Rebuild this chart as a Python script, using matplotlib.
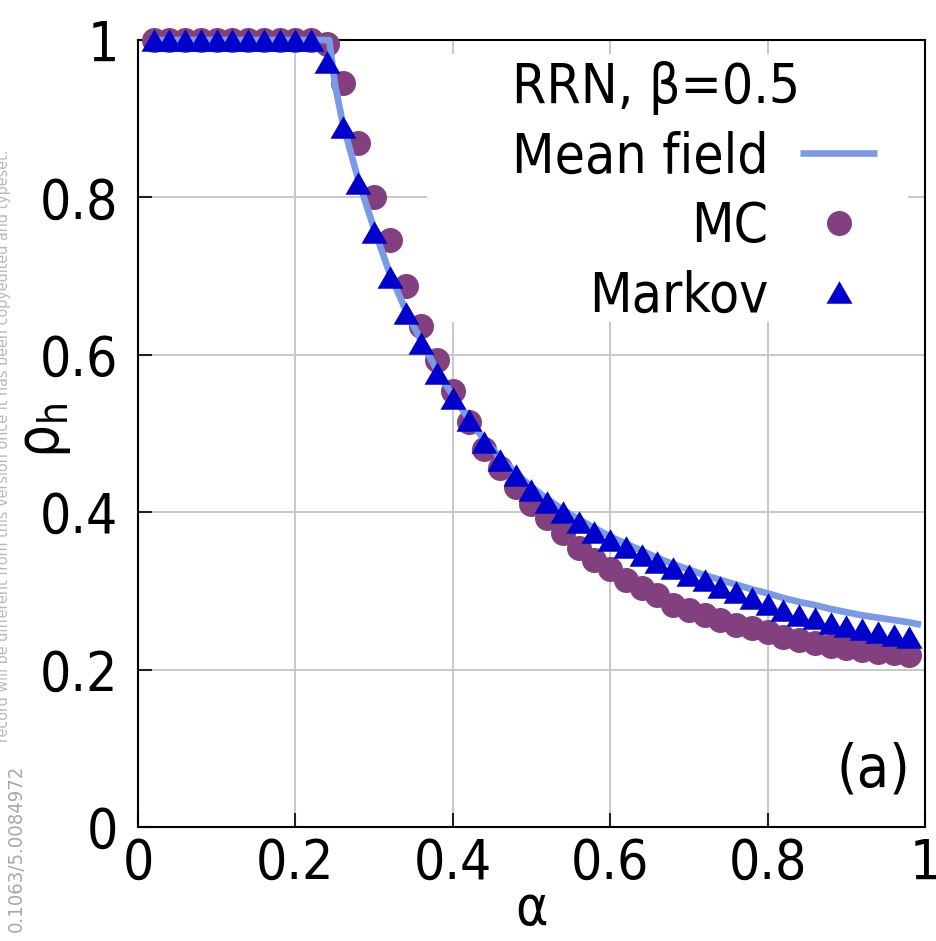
import glob
import os
import matplotlib
matplotlib.use("Agg")
import matplotlib.pyplot as plt
from matplotlib import font_manager as fm
from matplotlib.patches import Rectangle

# ---------------------------------------------------------------- data
alpha = [0.02, 0.04, 0.06, 0.08, 0.10, 0.12, 0.14, 0.16, 0.18, 0.20,
         0.22, 0.24, 0.26, 0.28, 0.30, 0.32, 0.34, 0.36, 0.38, 0.40,
         0.42, 0.44, 0.46, 0.48, 0.50, 0.52, 0.54, 0.56, 0.58, 0.60,
         0.62, 0.64, 0.66, 0.68, 0.70, 0.72, 0.74, 0.76, 0.78, 0.80,
         0.82, 0.84, 0.86, 0.88, 0.90, 0.92, 0.94, 0.96, 0.98]

rho_mc = [1.000, 1.000, 1.000, 1.000, 1.000, 1.000, 1.000, 1.000, 1.000, 1.000,
          1.000, 0.995, 0.945, 0.869, 0.800, 0.746, 0.687, 0.637, 0.594, 0.554,
          0.514, 0.480, 0.456, 0.432, 0.410, 0.392, 0.373, 0.355, 0.339, 0.328,
          0.314, 0.304, 0.295, 0.282, 0.276, 0.269, 0.263, 0.257, 0.253, 0.248,
          0.241, 0.238, 0.234, 0.230, 0.227, 0.225, 0.222, 0.221, 0.218]

rho_markov = [1.000, 1.000, 1.000, 1.000, 1.000, 1.000, 1.000, 1.000, 1.000, 1.000,
              1.000, 0.972, 0.889, 0.818, 0.756, 0.699, 0.653, 0.615, 0.577, 0.545,
              0.517, 0.489, 0.466, 0.447, 0.428, 0.413, 0.400, 0.388, 0.375, 0.365,
              0.356, 0.346, 0.337, 0.329, 0.320, 0.314, 0.305, 0.299, 0.291, 0.283,
              0.276, 0.270, 0.266, 0.259, 0.255, 0.252, 0.248, 0.244, 0.241]

alpha_mf = [0.02, 0.243, 0.25, 0.26, 0.28, 0.30, 0.32, 0.34, 0.36, 0.38,
            0.40, 0.42, 0.44, 0.46, 0.48, 0.50, 0.52, 0.54, 0.56, 0.58,
            0.60, 0.62, 0.64, 0.66, 0.68, 0.70, 0.72, 0.74, 0.76, 0.78,
            0.80, 0.82, 0.84, 0.86, 0.88, 0.90, 0.92, 0.94, 0.96, 0.98, 0.995]

rho_mf = [1.000, 1.000, 0.945, 0.895, 0.822, 0.760, 0.703, 0.657, 0.617, 0.580,
          0.548, 0.519, 0.492, 0.470, 0.450, 0.432, 0.417, 0.403, 0.391, 0.380,
          0.369, 0.360, 0.351, 0.342, 0.334, 0.327, 0.320, 0.314, 0.308, 0.302,
          0.297, 0.291, 0.286, 0.282, 0.277, 0.273, 0.269, 0.266, 0.263, 0.260, 0.257]

x_ticks = [0, 0.2, 0.4, 0.6, 0.8, 1]
x_tick_labels = ["0", "0.2", "0.4", "0.6", "0.8", "1"]
y_ticks = [0, 0.2, 0.4, 0.6, 0.8, 1]
y_tick_labels = ["0", "0.2", "0.4", "0.6", "0.8", "1"]

series_labels = ["Mean field", "MC", "Markov"]
legend_title = "RRN, \u03b2=0.5"
panel_tag = "(a)"
notice_text = "record will be different from this version once it has been copyedited and typeset."
notice_doi = "0.1063/5.0084972"

MF_COLOR = "#7b9ae6"
MC_COLOR = "#82407e"
MARKOV_COLOR = "#0000cc"
GRID_COLOR = "#c8c8c8"
NOTICE_COLOR = "#b8b8b8"

# ---------------------------------------------------------------- fonts
for path in glob.glob("/usr/share/fonts/**/DejaVuSansCondensed*.ttf", recursive=True):
    try:
        fm.fontManager.addfont(path)
    except Exception:
        pass

cond_name = None
for f in fm.fontManager.ttflist:
    if os.path.basename(f.fname) == "DejaVuSansCondensed.ttf":
        cond_name = f.name
        break

FS = 39.5
if cond_name is not None:
    plt.rcParams["font.family"] = [cond_name, "DejaVu Sans"]
    plt.rcParams["font.stretch"] = "condensed"
    math_font = f"{cond_name}:stretch=condensed"
else:
    plt.rcParams["font.family"] = ["DejaVu Sans"]
    FS = 35.5
    math_font = "DejaVu Sans"

plt.rcParams["mathtext.fontset"] = "custom"
plt.rcParams["mathtext.rm"] = math_font
plt.rcParams["mathtext.it"] = math_font

names = {f.name for f in fm.fontManager.ttflist}
notice_family = "Liberation Sans Narrow" if "Liberation Sans Narrow" in names else plt.rcParams["font.family"][0]

# ---------------------------------------------------------------- figure
W, H = 937, 941
fig = plt.figure(figsize=(W / 100, H / 100), dpi=100)
ax = fig.add_axes([138 / W, 1 - 827 / H, 787 / W, 787 / H])

ax.set_xlim(0, 1)
ax.set_ylim(0, 1)
ax.set_xticks(x_ticks)
ax.set_xticklabels(x_tick_labels)
ax.set_yticks(y_ticks)
ax.set_yticklabels(y_tick_labels)

ax.set_axisbelow(True)
ax.grid(True, color=GRID_COLOR, linewidth=1.4)
ax.tick_params(axis="both", direction="in", length=10, width=1.5, color="#222222",
               labelsize=FS, top=False, right=False)
ax.tick_params(axis="y", pad=14)
ax.tick_params(axis="x", pad=7)
for sp in ax.spines.values():
    sp.set_linewidth(1.5)
    sp.set_color("black")

# blank area behind the key
ax.add_patch(Rectangle((0.367, 0.642), 0.611, 0.340, transform=ax.transAxes,
                       facecolor="white", edgecolor="none", zorder=1))

h_mc, = ax.plot(alpha, rho_mc, linestyle="none", marker="o", markersize=18,
                color=MC_COLOR, markeredgecolor="none", zorder=3, clip_on=False)
h_mf, = ax.plot(alpha_mf, rho_mf, color=MF_COLOR, linewidth=4.8, zorder=3.5,
                solid_capstyle="butt", clip_on=False)
triangle = [(-0.5, -0.433), (0.5, -0.433), (0.0, 0.433), (-0.5, -0.433)]
h_mk, = ax.plot(alpha, rho_markov, linestyle="none", marker=triangle, markersize=18.7,
                color=MARKOV_COLOR, markeredgecolor="none", zorder=4, clip_on=False)

leg = ax.legend([h_mf, h_mc, h_mk], series_labels, title=legend_title,
                loc="upper right", bbox_to_anchor=(0.939, 0.973),
                bbox_transform=ax.transAxes, frameon=False, markerfirst=False,
                handlelength=1.4, handletextpad=0.58, labelspacing=0.28,
                borderpad=0, borderaxespad=0, fontsize=FS, title_fontsize=FS,
                numpoints=1, alignment="left")
leg.set_zorder(6)

ax.set_xlabel("\u03b1", fontsize=FS)
ax.xaxis.set_label_coords(0.5, -0.071)
ax.set_ylabel(r"$\mathrm{\rho}_{\mathrm{h}}$", fontsize=FS + 2)
ax.yaxis.set_label_coords(-0.082, 0.504)

ax.text(0.981, 0.072, panel_tag, transform=ax.transAxes, ha="right", va="center",
        fontsize=FS + 3)

fig.text(4 / W, 1 - 150 / H, notice_text, rotation=90, ha="center", va="top",
         color=NOTICE_COLOR, fontsize=11.5, family=notice_family)
fig.text(16 / W, 1 - 765 / H, notice_doi, rotation=90, ha="center", va="top",
         color="#a8a8a8", fontsize=14.5, family=notice_family)

fig.savefig("out.png", dpi=100)
